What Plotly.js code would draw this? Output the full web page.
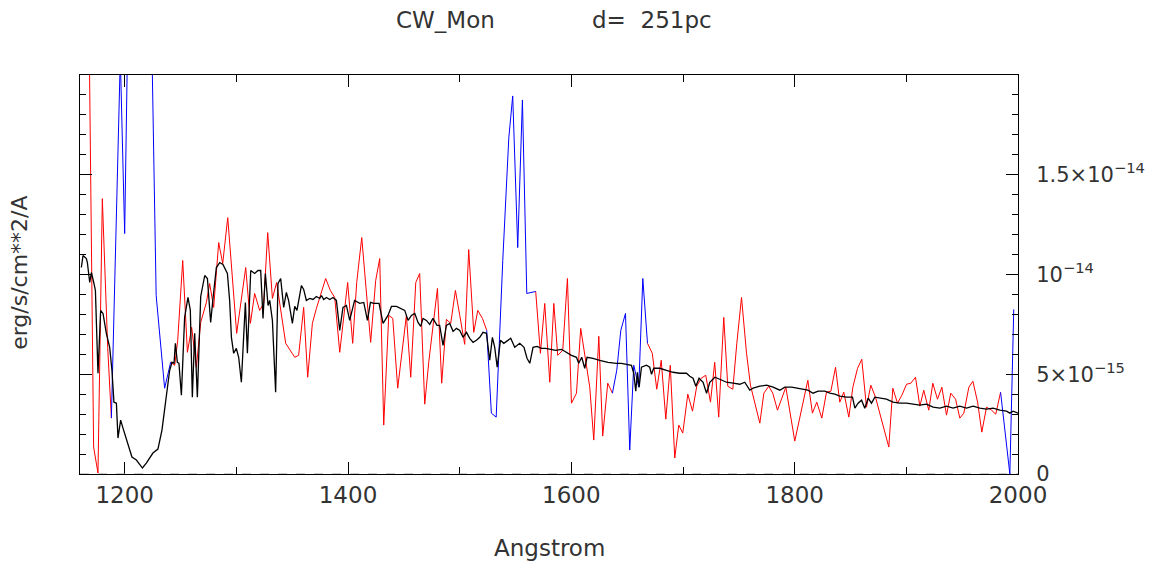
<!DOCTYPE html>
<html>
<head>
<meta charset="utf-8">
<script src="https://cdn.plot.ly/plotly-3.0.1.min.js"></script>
<style>html,body{margin:0;padding:0;background:#fff;}#chart{width:1165px;height:561px;}</style>
</head>
<body>
<div id="chart"></div>
<script>
// Flux values in units of 1e-15 erg/s/cm**2/A
// High-resolution spectrum (black)
const hiresWave = [1161.2,1162.7,1165.7,1166.6,1168.7,1170.2,1172.5,1173.8,1176.1,1178.5,1180.6,1183.6,1186.6,1188.6,1190.4,1192.6,1194.0,1196.4,1198.5,1201.5,1204.5,1206.5,1210.5,1215.9,1219.4,1225.3,1229.8,1233.4,1236.5,1240.3,1242.4,1244.2,1245.4,1247.2,1248.6,1250.8,1253.7,1256.7,1258.8,1260.6,1262.7,1265.1,1268.1,1271.7,1274.1,1277.0,1279.1,1282.1,1285.1,1288.0,1292.0,1294.0,1295.6,1297.6,1300.0,1302.1,1304.5,1308.1,1309.9,1312.9,1316.4,1319.4,1321.8,1323.9,1326.0,1328.4,1329.9,1332.3,1335.2,1337.3,1339.7,1342.4,1344.8,1346.8,1350.2,1352.3,1354.3,1358.3,1360.3,1362.7,1365.7,1368.7,1371.7,1374.7,1376.2,1378.2,1380.7,1383.6,1386.6,1389.6,1392.6,1395.5,1398.6,1401.5,1405.9,1410.5,1414.1,1417.4,1420.1,1423.0,1427.8,1431.4,1435.8,1438.9,1443.4,1447.8,1450.8,1453.8,1456.8,1459.8,1462.7,1465.1,1467.2,1470.2,1473.2,1476.1,1479.7,1482.1,1485.1,1488.1,1491.1,1494.1,1497.1,1500.1,1503.0,1506.1,1509.0,1512.0,1515.0,1518.0,1520.9,1524.0,1526.9,1529.3,1531.4,1533.6,1536.5,1539.5,1543.3,1545.7,1549.3,1553.8,1557.6,1560.3,1562.8,1565.7,1569.3,1573.2,1577.1,1581.3,1586.0,1591.1,1595.6,1600.1,1604.6,1606.6,1609.3,1612.0,1614.1,1619.4,1625.4,1632.9,1640.4,1644.9,1649.4,1653.8,1655.9,1657.7,1659.2,1660.7,1662.8,1667.3,1670.2,1671.8,1673.8,1679.2,1685.2,1691.1,1697.1,1703.1,1706.1,1709.0,1711.5,1714.4,1718.0,1721.1,1724.0,1728.5,1732.9,1738.9,1744.9,1750.9,1755.3,1759.8,1762.8,1768.8,1774.8,1780.7,1786.7,1791.2,1797.2,1806.1,1811.8,1816.5,1821.0,1827.0,1831.5,1836.0,1840.4,1846.4,1851.8,1853.9,1856.8,1859.9,1862.8,1865.8,1868.8,1871.8,1876.2,1882.2,1888.1,1894.1,1900.1,1906.1,1912.1,1918.1,1924.0,1930.0,1936.0,1941.9,1947.9,1953.9,1959.8,1965.8,1971.8,1977.7,1983.7,1989.7,1992.7,1995.6,2000.1];
const hiresFlux = [10.35,10.95,10.8,10.6,9.6,10.1,9.55,9.2,5.05,8.2,8.05,7.05,6.35,5.2,3.6,3.55,1.8,2.7,2.3,1.8,1.3,0.85,0.7,0.3,0.55,1.05,1.25,2.2,3.55,5.2,5.6,5.55,6.55,5.6,5.55,3.95,7.85,8.85,8.2,3.85,7.05,3.85,8.9,9.95,9.8,7.6,8.8,10.35,10.6,10.5,10.05,8.7,6.85,6.05,6.3,5.85,4.6,8.6,6.05,10.2,10.05,10.2,10.2,7.8,10.05,8.45,8.7,7.7,4.1,9.55,9.8,8.35,9.1,8.7,7.55,8.4,8.2,9.45,9.25,8.7,8.8,8.75,8.9,8.8,8.95,8.75,8.85,8.75,8.85,8.7,7.2,8.35,8.45,7.7,8.7,8.55,8.6,7.7,8.6,8.55,8.55,7.55,7.95,8.4,8.4,8.3,8.2,7.7,7.95,8.05,7.6,7.4,7.8,7.7,7.5,7.8,7.45,7.45,6.45,7.45,7.55,7.15,7.3,7.2,6.85,7.1,6.8,6.6,6.7,6.85,7.1,7.05,5.7,6.85,6.35,5.35,6.7,6.55,6.7,6.8,6.35,6.55,6.35,5.8,5.55,6.35,6.4,6.3,6.3,6.25,6.2,6.25,6.1,5.95,5.85,5.55,5.85,5.3,5.85,5.8,5.7,5.6,5.55,5.55,5.5,5.45,5.05,4.15,5.1,4.35,5.35,5.45,5.35,5.0,5.3,5.3,5.2,5.1,5.05,5.05,4.9,4.8,4.4,4.8,4.6,4.05,4.6,4.85,4.75,4.6,4.55,4.5,4.6,4.2,4.3,4.4,4.45,4.35,4.2,4.35,4.35,4.25,4.2,4.05,4.15,4.15,4.05,4.0,3.9,3.85,3.85,3.3,3.55,3.7,3.3,3.8,3.55,3.85,3.8,3.75,3.6,3.55,3.55,3.5,3.45,3.5,3.35,3.3,3.4,3.3,3.4,3.3,3.4,3.3,3.25,3.3,3.2,3.15,3.05,3.15,3.05];

// Low-resolution spectrum (red = good, blue = flagged points)
const lowresWave = [1167.8,1172.2,1176.1,1180.0,1184.8,1188.1,1196.1,1200.0,1203.9,1207.8,1211.8,1215.8,1219.7,1224.2,1228.2,1235.8,1241.2,1244.8,1247.5,1252.0,1256.2,1260.0,1264.2,1268.1,1273.2,1276.1,1279.7,1284.2,1287.8,1292.3,1300.3,1308.4,1312.6,1316.4,1320.9,1324.5,1328.1,1332.3,1336.1,1344.2,1352.3,1355.8,1360.3,1363.9,1368.1,1371.7,1380.0,1384.2,1388.1,1392.6,1399.7,1404.2,1407.8,1412.3,1420.3,1424.8,1428.4,1432.0,1436.5,1440.1,1444.5,1448.7,1452.3,1456.2,1460.7,1464.2,1468.7,1472.3,1475.9,1480.1,1483.9,1488.1,1492.0,1496.2,1500.1,1504.5,1508.1,1512.6,1516.2,1520.4,1524.2,1528.4,1532.7,1538.6,1544.0,1547.5,1552.0,1556.2,1560.1,1568.1,1572.3,1576.2,1580.7,1584.3,1587.8,1592.3,1596.5,1600.1,1604.6,1608.4,1616.5,1620.1,1624.6,1628.1,1632.6,1636.8,1640.7,1644.3,1648.5,1652.3,1655.9,1660.4,1664.0,1668.2,1672.5,1676.5,1680.5,1684.6,1688.6,1692.6,1696.2,1699.8,1704.3,1708.5,1712.3,1716.3,1720.4,1724.6,1728.4,1732.0,1736.5,1740.1,1744.6,1748.2,1752.4,1756.9,1760.4,1768.8,1772.4,1776.8,1780.4,1784.6,1792.1,1800.1,1811.8,1815.9,1819.8,1824.3,1828.5,1832.4,1836.6,1840.4,1844.0,1848.5,1852.1,1856.3,1860.1,1864.3,1868.2,1872.4,1884.3,1887.9,1892.1,1896.0,1900.2,1904.0,1908.2,1912.1,1915.6,1920.1,1923.7,1927.9,1931.8,1936.0,1939.8,1944.1,1947.9,1951.5,1956.0,1959.6,1963.8,1967.6,1971.8,1976.3,1980.1,1984.4,1992.7,1996.2];
const lowresFlux = [24,1.35,0.05,13.8,6.35,2.8,20.9,12.05,20.2,40,60,70,50,22,8.95,4.3,5.6,5.45,6.7,10.7,6.1,7.35,5.35,7.6,8.6,9.55,8.35,11.6,10.55,12.85,7.05,10.35,7.55,9.05,8.2,8.55,12.1,8.8,9.6,6.55,5.85,5.95,8.35,4.85,7.55,8.3,9.8,9.2,8.85,6.1,9.6,6.55,9.6,11.85,6.6,9.7,10.8,2.45,7.95,7.8,4.3,6.45,7.95,4.85,9.6,10.05,3.5,5.6,7.3,9.3,4.55,7.75,7.55,9.2,7.95,6.5,11.25,7.1,8.2,7.8,7.2,3.05,2.85,10.7,16.85,18.95,11.35,18.75,9.05,9.15,6.05,8.55,4.6,8.55,5.95,6.2,9.8,3.55,4.05,7.3,4.35,1.7,6.9,1.9,4.55,4.05,5.2,7.2,8.05,1.2,5.45,4.35,9.8,6.55,6.05,4.25,5.7,2.75,5.45,0.8,2.45,2.05,4.0,3.15,4.4,4.8,4.95,3.6,5.6,2.85,7.85,4.4,4.25,6.55,8.85,6.05,4.45,2.55,4.05,4.4,4.05,3.2,4.35,1.65,4.7,3.05,3.6,2.8,4.1,4.15,5.35,3.6,4.1,2.85,4.35,5.3,5.75,3.35,4.45,3.85,1.35,4.3,3.55,3.95,4.5,4.55,4.85,3.4,4.2,3.2,4.55,3.75,4.35,2.95,4.05,3.75,2.8,3.05,4.35,4.65,3.6,2.1,3.35,3.2,3.0,4.1,0.0,8.25];
const lowresFlag = [0,0,0,0,0,0,1,1,1,1,1,1,1,1,1,1,0,0,0,0,0,0,0,0,0,0,0,0,0,0,0,0,0,0,0,0,0,0,0,0,0,0,0,0,0,0,0,0,0,0,0,0,0,0,0,0,0,0,0,0,0,0,0,0,0,0,0,0,0,0,0,0,0,0,0,0,0,0,0,0,0,1,1,1,1,1,1,1,1,0,0,0,0,0,0,0,0,0,0,0,0,0,0,0,0,0,1,1,1,1,1,1,1,0,0,0,0,0,0,0,0,0,0,0,0,0,0,0,0,0,0,0,0,0,0,0,0,0,0,0,0,0,0,0,0,0,0,0,0,0,0,0,0,0,0,0,0,0,0,0,0,0,0,0,0,0,0,0,0,0,0,0,0,0,0,0,0,0,0,0,0,0,0,0,0,0,1,1];

const xTickVals = [1200,1400,1600,1800,2000];
const yTickVals = [0,5,10,15];
const yTickText = ['0','5×10<sup>−15</sup>','10<sup>−14</sup>','1.5×10<sup>−14</sup>'];

const n = lowresWave.length;
const redY = lowresFlux.map((v,i) => lowresFlag[i] === 0 ? v : null);
const blueY = lowresFlux.map((v,i) => (lowresFlag[i] === 1 || (i>0 && lowresFlag[i-1] === 1) || (i<n-1 && lowresFlag[i+1] === 1)) ? v : null);

const FONT = 'DejaVu Sans';
const TXT = '#333';

const traces = [
  {x: lowresWave, y: redY, mode: 'lines', line: {color: '#ff0000', width: 1}, connectgaps: false, hoverinfo: 'skip'},
  {x: lowresWave, y: blueY, mode: 'lines', line: {color: '#0000ff', width: 1}, connectgaps: false, hoverinfo: 'skip'},
  {x: hiresWave, y: hiresFlux, mode: 'lines', line: {color: '#000000', width: 1.3}, hoverinfo: 'skip'}
];

const layout = {
  width: 1165, height: 561,
  margin: {l: 80, r: 147, t: 75, b: 87, pad: 0},
  paper_bgcolor: '#fff', plot_bgcolor: '#fff',
  showlegend: false,
  font: {family: FONT, size: 21, color: TXT},
  xaxis: {
    range: [1160, 2000], tickvals: xTickVals, ticks: 'inside', ticklen: 12, tickwidth: 1, tickcolor: '#000',
    minor: {dtick: 100, tick0: 1100, ticklen: 7, ticks: 'inside', tickcolor: '#000', showgrid: false},
    showline: true, linecolor: '#000', linewidth: 1, mirror: 'allticks', showgrid: false, zeroline: false,
    tickfont: {family: FONT, size: 23, color: TXT}
  },
  yaxis: {
    range: [0, 20], side: 'right', tickvals: yTickVals, ticktext: yTickText,
    ticks: 'inside', ticklen: 12, tickwidth: 1, tickcolor: '#000',
    minor: {dtick: 1, tick0: 0, ticklen: 6, ticks: 'inside', tickcolor: '#000', showgrid: false},
    showline: true, linecolor: '#000', linewidth: 1, mirror: 'allticks', showgrid: false, zeroline: false,
    tickfont: {family: FONT, size: 21, color: TXT}, ticklabelstandoff: 13
  },
  shapes: [
    {type: 'line', xref: 'paper', yref: 'y', x0: 0, x1: 1, y0: 0, y1: 0, line: {color: '#999', width: 1, dash: 'dash'}, layer: 'above'}
  ],
  annotations: [
    {text: 'CW_Mon', xref: 'paper', yref: 'paper', x: 0.3897, y: 1.138, xanchor: 'center', yanchor: 'middle', showarrow: false, font: {family: FONT, size: 23, color: TXT}},
    {text: 'd=  251pc', xref: 'paper', yref: 'paper', x: 0.6093, y: 1.138, xanchor: 'center', yanchor: 'middle', showarrow: false, font: {family: FONT, size: 23, color: TXT}},
    {text: 'Angstrom', xref: 'paper', yref: 'paper', x: 0.5, y: -0.185, xanchor: 'center', yanchor: 'middle', showarrow: false, font: {family: FONT, size: 23, color: TXT}},
    {text: 'erg/s/cm**2/A', xref: 'paper', yref: 'paper', x: -0.064, y: 0.504, xanchor: 'center', yanchor: 'middle', textangle: -90, showarrow: false, font: {family: FONT, size: 22, color: TXT}}
  ]
};

Plotly.newPlot('chart', traces, layout, {staticPlot: true, displayModeBar: false});
</script>
</body>
</html>
